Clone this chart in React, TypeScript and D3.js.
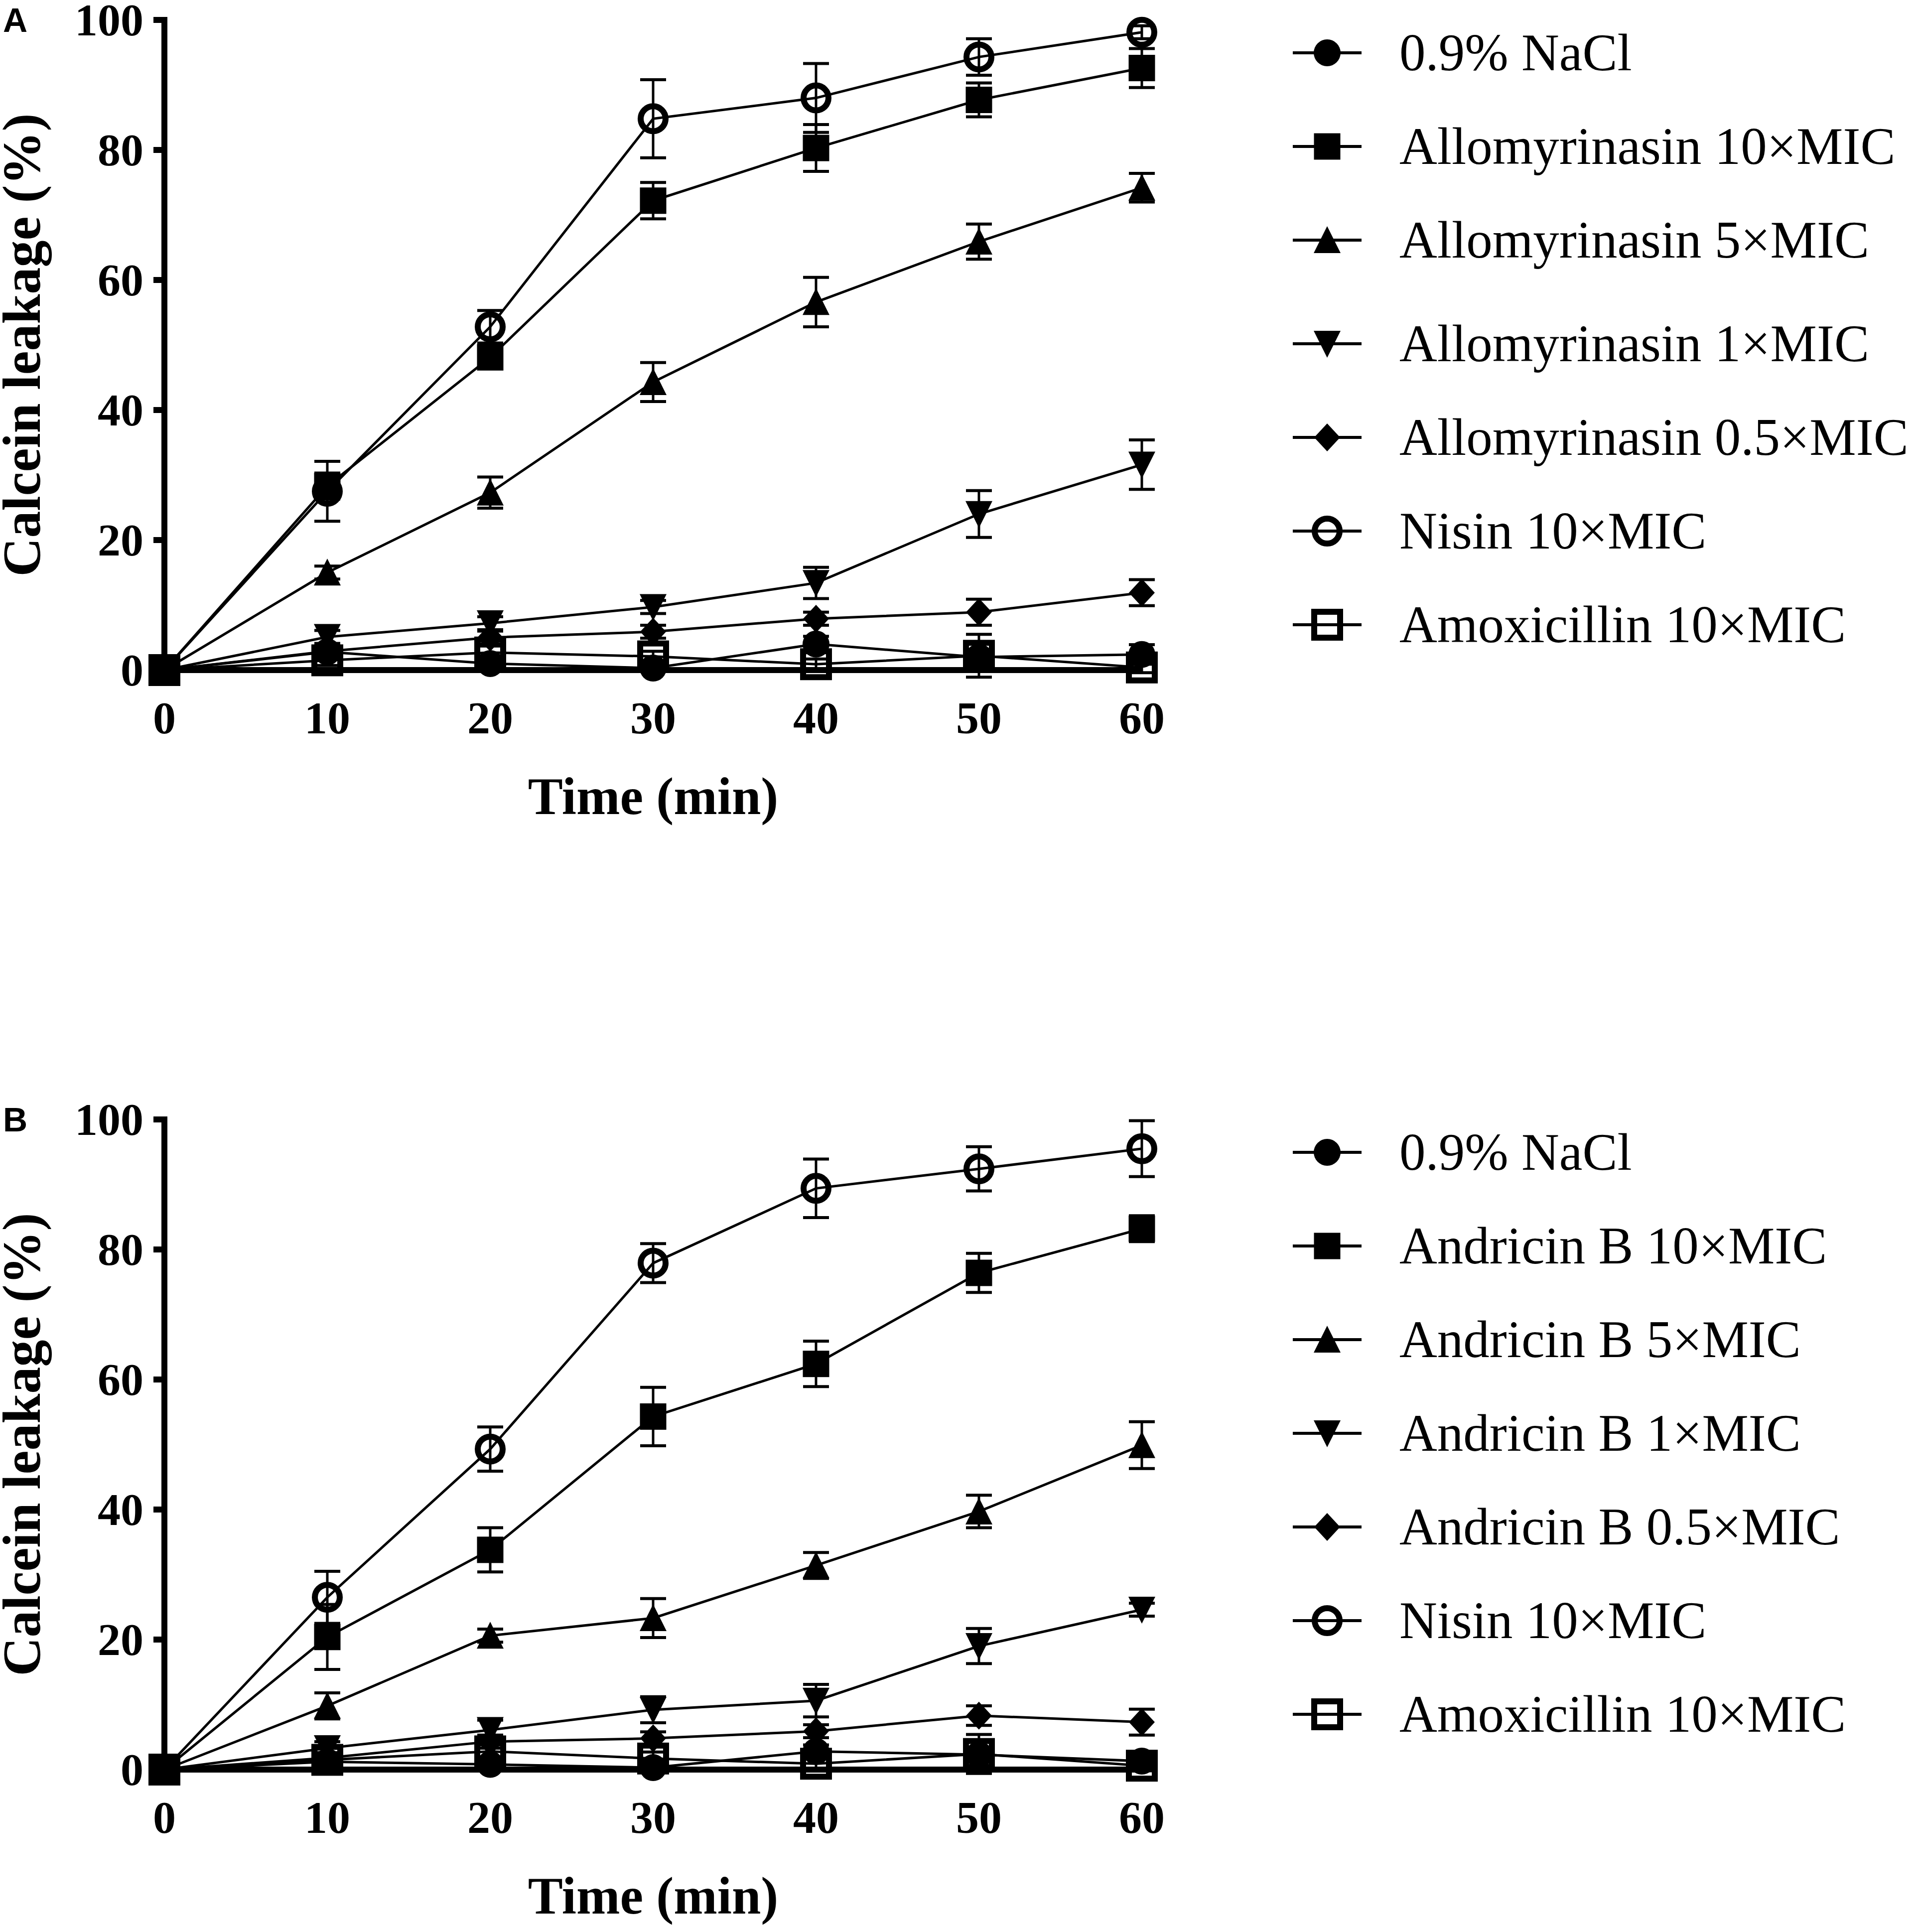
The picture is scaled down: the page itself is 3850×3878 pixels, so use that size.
import * as d3 from "d3";

const times = [0, 10, 20, 30, 40, 50, 60];

const legendA = [
  "0.9% NaCl",
  "Allomyrinasin 10×MIC",
  "Allomyrinasin 5×MIC",
  "Allomyrinasin 1×MIC",
  "Allomyrinasin 0.5×MIC",
  "Nisin 10×MIC",
  "Amoxicillin 10×MIC",
];
const legendB = [
  "0.9% NaCl",
  "Andricin B 10×MIC",
  "Andricin B 5×MIC",
  "Andricin B 1×MIC",
  "Andricin B 0.5×MIC",
  "Nisin 10×MIC",
  "Amoxicillin 10×MIC",
];

// panel A means / sd
const naclA = [0, 2.8, 1.0, 0.3, 4.0, 2.0, 2.4];
const naclASd = [0, 1.0, 0.8, 0.5, 1.2, 1.0, 1.5];
const allo10A = [0, 28.3, 48.1, 72.2, 80.3, 87.7, 92.6];
const allo10ASd = [0, 2.0, 1.5, 2.8, 3.6, 2.6, 3.0];
const allo5A = [0, 15.0, 27.3, 44.3, 56.6, 65.9, 74.2];
const allo5ASd = [0, 1.0, 2.4, 3.0, 3.8, 2.7, 2.2];
const allo1A = [0, 5.1, 7.2, 9.7, 13.4, 24.0, 31.6];
const allo1ASd = [0, 1.0, 1.0, 1.0, 2.4, 3.6, 3.8];
const allo05A = [0, 2.9, 5.0, 5.9, 7.9, 8.9, 11.9];
const allo05ASd = [0, 0.8, 1.0, 1.0, 1.0, 2.0, 2.0];
const nisinA = [0, 27.5, 52.8, 84.8, 88.0, 94.3, 98.1];
const nisinASd = [0, 4.6, 2.5, 6.0, 5.3, 2.8, 1.0];
const amoxA = [0, 1.5, 2.7, 2.1, 0.9, 2.2, 0.4];
const amoxASd = [0, 0.8, 1.0, 0.8, 0.8, 3.3, 0.8];

// panel B means / sd
const naclB = [0, 1.2, 0.8, 0.3, 2.8, 2.3, 1.3];
const naclBSd = [0, 0.8, 0.8, 0.5, 1.0, 1.0, 1.0];
const andr10B = [0, 20.4, 33.8, 54.3, 62.4, 76.4, 83.2];
const andr10BSd = [0, 5.0, 3.4, 4.5, 3.5, 3.0, 2.0];
const andr5B = [0, 9.8, 20.6, 23.3, 31.4, 39.7, 49.9];
const andr5BSd = [0, 2.0, 1.0, 3.0, 2.0, 2.5, 3.6];
const andr1B = [0, 3.3, 6.1, 9.2, 10.6, 19.0, 24.6];
const andr1BSd = [0, 1.0, 1.5, 2.0, 2.5, 2.7, 1.0];
const andr05B = [0, 1.8, 4.3, 4.8, 5.9, 8.3, 7.3];
const andr05BSd = [0, 0.8, 1.0, 1.0, 1.0, 1.5, 2.0];
const nisinB = [0, 26.5, 49.3, 77.9, 89.4, 92.4, 95.5];
const nisinBSd = [0, 4.0, 3.4, 3.0, 4.5, 3.4, 4.3];
const amoxB = [0, 1.5, 2.8, 1.7, 0.9, 2.4, 0.6];
const amoxBSd = [0, 0.8, 1.0, 1.0, 0.8, 3.0, 0.8];

const shapes = ["circle", "square", "triUp", "triDown", "diamond", "openCircle", "openSquare"];
// draw order: open symbols first so filled ones sit on top
const drawOrder = [6, 5, 4, 3, 2, 0, 1];

const W = 3850;
const H = 3878;
const PANEL_B_OFFSET = 2207;
const SERIF = "'Liberation Serif', 'Times New Roman', serif";
const SANS = "'Liberation Sans', Arial, sans-serif";

const circlePath = d3.symbol().type(d3.symbolCircle).size(Math.PI * 27 * 27)() as string;
const openCirclePath = d3.symbol().type(d3.symbolCircle).size(Math.PI * 25 * 25)() as string;

function Marker({ shape, x, y }: { shape: string; x: number; y: number }) {
  const t = `translate(${x},${y})`;
  switch (shape) {
    case "circle":
      return <path d={circlePath} transform={t} fill="#000" />;
    case "square":
      return <rect x={x - 26.5} y={y - 26.5} width={53} height={53} fill="#000" />;
    case "triUp":
      return <path d="M0,-28L27,26L-27,26Z" transform={t} fill="#000" />;
    case "triDown":
      return <path d="M0,28L27,-26L-27,-26Z" transform={t} fill="#000" />;
    case "diamond":
      return <path d="M0,-28L26,0L0,28L-26,0Z" transform={t} fill="#000" />;
    case "openCircle":
      return <path d={openCirclePath} transform={t} fill="none" stroke="#000" strokeWidth={12} />;
    default:
      return (
        <rect x={x - 26} y={y - 26} width={52} height={52} fill="none" stroke="#000" strokeWidth={12} />
      );
  }
}

function Panel({
  top,
  label,
  names,
  means,
  sds,
  legendBreak,
}: {
  top: number;
  label: string;
  names: string[];
  means: number[][];
  sds: number[][];
  legendBreak: number;
}) {
  const x = d3.scaleLinear().domain([0, 60]).range([330, 2292]);
  const y = d3.scaleLinear().domain([0, 100]).range([top + 1305, top]);
  const line = d3
    .line<number>()
    .x((_, i) => x(times[i]))
    .y((d) => y(d));
  const yTicks = y.ticks(5);
  const legendTop = top + 66;
  const legendStep = 188;

  return (
    <g>
      <text x={6} y={top + 24} fontFamily={SANS} fontWeight="bold" fontSize={68} fill="#000">
        {label}
      </text>

      {/* y axis */}
      <line x1={x(0)} x2={x(0)} y1={y(0)} y2={y(100) - 6} stroke="#000" strokeWidth={12} />
      {yTicks.map((t) => (
        <g key={t}>
          <line x1={x(0) - 22} x2={x(0)} y1={y(t)} y2={y(t)} stroke="#000" strokeWidth={12} />
          <text
            x={288}
            y={y(t) + 31}
            textAnchor="end"
            fontFamily={SERIF}
            fontWeight="bold"
            fontSize={92}
          >
            {t}
          </text>
        </g>
      ))}
      <text
        transform={`translate(80,${(y(0) + y(100)) / 2}) rotate(-90)`}
        textAnchor="middle"
        fontFamily={SERIF}
        fontWeight="bold"
        fontSize={108}
      >
        Calcein leakage (%)
      </text>

      {/* x axis */}
      <line x1={x(0) - 6} x2={x(60)} y1={y(0)} y2={y(0)} stroke="#000" strokeWidth={12} />
      {times.map((t) => (
        <text
          key={t}
          x={x(t)}
          y={y(0) + 127}
          textAnchor="middle"
          fontFamily={SERIF}
          fontWeight="bold"
          fontSize={92}
        >
          {t}
        </text>
      ))}
      <text
        x={(x(0) + x(60)) / 2}
        y={y(0) + 289}
        textAnchor="middle"
        fontFamily={SERIF}
        fontWeight="bold"
        fontSize={105}
      >
        Time (min)
      </text>

      {/* series */}
      {drawOrder.map((si) => (
        <g key={si}>
          <path d={line(means[si]) as string} fill="none" stroke="#000" strokeWidth={5} />
          {means[si].map((v, i) =>
            sds[si][i] > 0 ? (
              <g key={i} stroke="#000">
                <line
                  x1={x(times[i])}
                  x2={x(times[i])}
                  y1={y(v - sds[si][i])}
                  y2={y(v + sds[si][i])}
                  strokeWidth={5}
                />
                <line
                  x1={x(times[i]) - 26}
                  x2={x(times[i]) + 26}
                  y1={y(v + sds[si][i])}
                  y2={y(v + sds[si][i])}
                  strokeWidth={6}
                />
                <line
                  x1={x(times[i]) - 26}
                  x2={x(times[i]) + 26}
                  y1={y(v - sds[si][i])}
                  y2={y(v - sds[si][i])}
                  strokeWidth={6}
                />
              </g>
            ) : null
          )}
          {means[si].map((v, i) => (
            <Marker key={i} shape={shapes[si]} x={x(times[i])} y={y(v)} />
          ))}
        </g>
      ))}

      {/* legend */}
      {names.map((n, i) => {
        const ly = legendTop + i * legendStep + (i >= 3 ? legendBreak : 0);
        return (
          <g key={n}>
            <line x1={2595} x2={2733} y1={ly} y2={ly} stroke="#000" strokeWidth={6} />
            <Marker shape={shapes[i]} x={2664} y={ly} />
            <text x={2809} y={ly + 35} fontFamily={SERIF} fontSize={105}>
              {n}
            </text>
          </g>
        );
      })}
    </g>
  );
}

export default function App() {
  return (
    <svg
      width={W}
      height={H}
      viewBox={`0 0 ${W} ${H}`}
      style={{ position: "absolute", left: 0, top: 0, background: "#fff" }}
    >
      <rect width={W} height={H} fill="#fff" />
      <Panel
        top={40}
        label="A"
        names={legendA}
        means={[naclA, allo10A, allo5A, allo1A, allo05A, nisinA, amoxA]}
        sds={[naclASd, allo10ASd, allo5ASd, allo1ASd, allo05ASd, nisinASd, amoxASd]}
        legendBreak={20}
      />
      <Panel
        top={40 + PANEL_B_OFFSET}
        label="B"
        names={legendB}
        means={[naclB, andr10B, andr5B, andr1B, andr05B, nisinB, amoxB]}
        sds={[naclBSd, andr10BSd, andr5BSd, andr1BSd, andr05BSd, nisinBSd, amoxBSd]}
        legendBreak={0}
      />
    </svg>
  );
}
